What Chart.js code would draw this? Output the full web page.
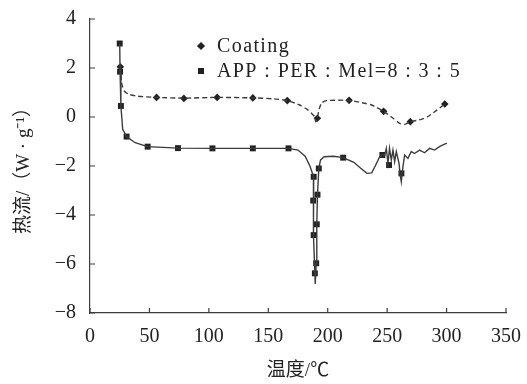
<!DOCTYPE html>
<html lang="zh">
<head>
    <meta charset="UTF-8">
    <title>DSC</title>
    <script src="https://cdn.jsdelivr.net/npm/chart.js@4"></script>
    <style>
        body { margin: 0; background: #fff; }
        #wrap { width: 527px; height: 384px; }
    </style>
</head>
<body>
<div id="wrap"><canvas id="dsc"></canvas></div>
<script>
    // 曲线数据 (温度 / 热流)
    const coatingX = [25.5, 26, 27, 29, 33, 40, 56, 79, 107, 137, 155, 166, 176.5, 183, 187, 189, 190, 191.3, 193, 195, 199, 218, 232, 237, 247, 255, 260.5, 265, 269.5, 277, 284, 291, 298.5];
    const coatingY = [2.05, 1.7, 1.3, 1.05, 0.92, 0.85, 0.80, 0.77, 0.80, 0.78, 0.74, 0.67, 0.49, 0.30, 0.12, 0.01, -0.2, -0.03, 0.35, 0.58, 0.67, 0.68, 0.55, 0.49, 0.23, -0.05, -0.26, -0.30, -0.19, -0.12, 0.01, 0.25, 0.53];
    const appX = [25, 25.3, 26, 27.5, 30.8, 38, 48.5, 74, 103, 137, 167, 175, 181, 185, 188.2, 187.8, 188.2, 189.2, 189.5, 190.3, 190.8, 191.4, 192.5, 194, 197, 205, 213, 222, 228, 233, 237, 240, 243.7, 246, 248, 249.3, 250.7, 252, 253.5, 254.9, 256.3, 257.7, 260, 261, 261.9, 263.3, 264.7, 267.5, 270.3, 273, 277.3, 281.5, 285.7, 290, 294, 297, 300.3];
    const appY = [3.0, 1.85, 0.45, -0.5, -0.80, -1.05, -1.21, -1.27, -1.28, -1.28, -1.28, -1.35, -1.6, -2.0, -2.44, -3.41, -4.82, -6.38, -6.82, -5.97, -4.38, -3.17, -2.1, -1.75, -1.62, -1.6, -1.66, -1.85, -2.1, -2.3, -2.28, -2.0, -1.62, -1.55, -1.55, -1.28, -1.89, -1.28, -1.76, -1.35, -1.82, -1.41, -1.89, -2.37, -2.64, -2.03, -1.55, -1.69, -1.41, -1.49, -1.35, -1.46, -1.28, -1.35, -1.21, -1.14, -1.07];

    // 标记点
    const coatingMarkX = [25.5, 56, 79, 107, 137, 166, 191.3, 218, 247, 269.5, 298.5];
    const coatingMarkY = [2.05, 0.80, 0.76, 0.80, 0.78, 0.67, -0.05, 0.68, 0.23, -0.19, 0.53];
    const appMarkX = [25, 25.3, 26, 30.8, 48.5, 74, 103, 137, 167, 188.2, 187.8, 188.2, 189.2, 190.3, 190.8, 191.4, 192.5, 213, 246, 251.6, 262];
    const appMarkY = [3.0, 1.85, 0.45, -0.80, -1.21, -1.27, -1.28, -1.28, -1.28, -2.44, -3.41, -4.82, -6.38, -5.97, -4.38, -3.17, -2.1, -1.66, -1.55, -1.96, -2.3];

    const seriesLabels = ['Coating', 'APP : PER : Mel=8 : 3 : 5'];
    const xTicks = [0, 50, 100, 150, 200, 250, 300, 350];
    const yTicks = [-8, -6, -4, -2, 0, 2, 4];

    const ink = '#3c3c3c';
    const serif = "'Liberation Serif', 'Noto Sans CJK SC', serif";
    const pts = (xs, ys) => xs.map((x, i) => ({ x: x, y: ys[i] }));

    // 刻度朝内 + 图例
    const extras = {
        id: 'extras',
        afterDraw(chart) {
            const ctx = chart.ctx;
            const xs = chart.scales.x, ys = chart.scales.y;
            ctx.save();
            ctx.strokeStyle = ink;
            ctx.lineWidth = 1.2;
            ctx.beginPath();
            xTicks.forEach(v => {
                const p = xs.getPixelForValue(v);
                ctx.moveTo(p, ys.bottom);
                ctx.lineTo(p, ys.bottom - 5);
            });
            yTicks.forEach(v => {
                const p = ys.getPixelForValue(v);
                ctx.moveTo(xs.left, p);
                ctx.lineTo(xs.left + 5, p);
            });
            ctx.stroke();

            // legend
            const items = [chart.data.datasets[2], chart.data.datasets[3]];
            ctx.font = '20px ' + serif;
            ctx.letterSpacing = '1.4px';
            ctx.textBaseline = 'middle';
            items.forEach((ds, i) => {
                const y = 46 + i * 25;
                Chart.helpers.drawPoint(ctx, {
                    pointStyle: ds.pointStyle, radius: ds.pointRadius, borderWidth: 0
                }, 201, y);
                ctx.fillStyle = '#222';
                ctx.fill();
                ctx.fillText(ds.label, 217, y + 1);
            });
            ctx.restore();
        }
    };

    new Chart(document.getElementById('dsc'), {
        type: 'scatter',
        data: {
            datasets: [
                { label: 'coating-line', data: pts(coatingX, coatingY), showLine: true, borderColor: ink, borderWidth: 1.4, borderDash: [5, 3], pointRadius: 0, tension: 0.2 },
                { label: 'app-line', data: pts(appX, appY), showLine: true, borderColor: ink, borderWidth: 1.4, pointRadius: 0, tension: 0 },
                { label: seriesLabels[0], data: pts(coatingMarkX, coatingMarkY), pointStyle: 'rectRot', pointRadius: 3.8, backgroundColor: '#222', borderWidth: 0 },
                { label: seriesLabels[1], data: pts(appMarkX, appMarkY), pointStyle: 'rect', pointRadius: 4.2, backgroundColor: '#222', borderWidth: 0 }
            ]
        },
        options: {
            responsive: true,
            maintainAspectRatio: false,
            animation: false,
            layout: { padding: { top: 19, right: 21, left: 0, bottom: 0 } },
            plugins: { legend: { display: false }, tooltip: { enabled: false } },
            scales: {
                x: {
                    type: 'linear', min: 0, max: 350,
                    afterFit: s => { s.height = 71; s.paddingLeft = 0; s.paddingRight = 0; },
                    afterBuildTicks: s => { s.ticks = xTicks.map(v => ({ value: v })); },
                    grid: { display: true, drawOnChartArea: false, drawTicks: false },
                    border: { display: true, color: ink, width: 1.2 },
                    ticks: { padding: 12, color: '#222', font: { family: serif, size: 20 } },
                    title: { display: true, text: '温度/℃', color: '#222', padding: { top: 0, bottom: 2 }, font: { family: serif, size: 19 } }
                },
                y: {
                    type: 'linear', min: -8, max: 4,
                    afterFit: s => { s.width = 90; s.paddingTop = 0; s.paddingBottom = 0; },
                    afterBuildTicks: s => { s.ticks = yTicks.map(v => ({ value: v })); },
                    grid: { display: true, drawOnChartArea: false, drawTicks: false },
                    border: { display: true, color: ink, width: 1.2 },
                    ticks: { padding: 14, color: '#222', font: { family: serif, size: 20 }, callback: v => String(v).replace('-', '\u2212') },
                    title: { display: true, text: '热流/（W · g⁻¹）', color: '#222', padding: { top: 13, bottom: 0 }, font: { family: serif, size: 19 } }
                }
            }
        },
        plugins: [extras]
    });
</script>
</body>
</html>
